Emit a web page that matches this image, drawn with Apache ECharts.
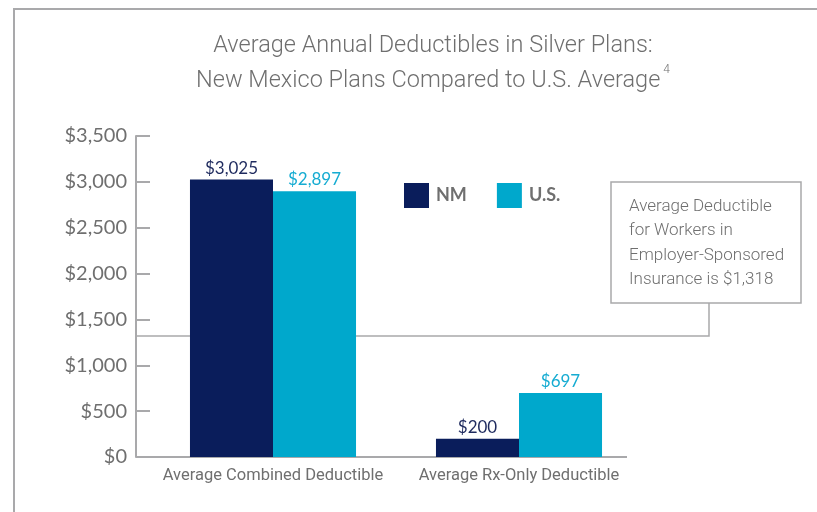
<!DOCTYPE html>
<html><head><meta charset="utf-8">
<script src="https://cdn.jsdelivr.net/npm/echarts@6/dist/echarts.min.js"></script>
<style>html,body{margin:0;padding:0;background:#fff}#c{width:817px;height:512px}</style>
</head><body><div id="c"></div>
<script>
const categories = ['Average Combined Deductible', 'Average Rx-Only Deductible'];
const nmValues = [3025, 200];
const usValues = [2897, 697];
const seriesNames = ['NM', 'U.S.'];
const employerValue = 1318;
const yTicks = [0, 500, 1000, 1500, 2000, 2500, 3000, 3500];

const NAVY = '#0a1d5b', CYAN = '#00a8cc', GREY = '#6f6f6f', LINE = '#a9a9ab';
const NARROW = 'Roboto';
const chart = echarts.init(document.getElementById('c'));
const fmt = v => '$' + v.toLocaleString('en-US');

chart.setOption({
  animation: false,
  title: {
    text: 'Average Annual Deductibles in Silver Plans:\nNew Mexico Plans Compared to U.S. Average{s|4}',
    left: 428, top: 24, textAlign: 'center',
    textStyle: {
      fontFamily: NARROW, fontSize: 23.5, fontWeight: 300, color: GREY, lineHeight: 35,
      rich: { s: { fontSize: 12, verticalAlign: 'top', color: GREY, padding: [0,0,14,3], fontFamily: NARROW } }
    }
  },
  legend: {
    left: 399, top: 178, itemWidth: 25, itemHeight: 25, itemGap: 30, icon: 'rect',
    textStyle: { fontFamily: 'Lato', fontWeight: 'bold', fontSize: 18, color: GREY, padding: [0,0,0,2] },
    data: seriesNames
  },
  grid: { left: 150, top: 136, width: 492, height: 321 },
  xAxis: {
    type: 'category', data: categories,
    axisLine: { show: false }, axisTick: { show: false },
    axisLabel: { interval: 0, fontFamily: NARROW, fontSize: 16.5, color: GREY, margin: 10 }
  },
  yAxis: {
    type: 'value', min: 0, max: 3500, interval: 500, offset: 14,
    axisLine: { show: true, lineStyle: { color: LINE, width: 2 } },
    axisTick: { show: true, inside: true, length: 14, lineStyle: { color: LINE, width: 2 } },
    splitLine: { show: false },
    axisLabel: { fontFamily: 'Lato', fontSize: 20, color: GREY, margin: 9, formatter: v => yTicks.includes(v) ? fmt(v) : '' }
  },
  series: [
    { name: seriesNames[0], type: 'bar', data: nmValues, barGap: '0%', barCategoryGap: '32.5%',
      itemStyle: { color: NAVY },
      label: { show: true, position: 'top', distance: 3, formatter: p => fmt(p.value), fontFamily: 'Lato', fontSize: 17, color: '#1e2a5e' } },
    { name: seriesNames[1], type: 'bar', data: usValues,
      itemStyle: { color: CYAN },
      label: { show: true, position: 'top', distance: 3, formatter: p => fmt(p.value), fontFamily: 'Lato', fontSize: 17, color: '#16acd2' } }
  ]
});

const y0 = chart.convertToPixel({ yAxisIndex: 0 }, 0);
const yE = chart.convertToPixel({ yAxisIndex: 0 }, employerValue);
chart.setOption({
  graphic: [
    { type: 'polyline', shape: { points: [[14, 512], [14, 9], [817, 9]] }, style: { stroke: LINE, lineWidth: 2, fill: null } },
    { type: 'line', shape: { x1: 136, y1: y0, x2: 627, y2: y0 }, style: { stroke: LINE, lineWidth: 2 } },
    { type: 'polyline', shape: { points: [[137, yE], [709, yE], [709, 303]] }, style: { stroke: LINE, lineWidth: 1.5, fill: null } },
    { type: 'rect', shape: { x: 611, y: 182, width: 190, height: 121 }, style: { stroke: LINE, lineWidth: 1.5, fill: '#fff' } },
    { type: 'text', x: 629, y: 194, style: {
        text: 'Average Deductible\nfor Workers in\nEmployer-Sponsored\nInsurance is ' + fmt(employerValue),
        fontFamily: NARROW, fontSize: 17, fontWeight: 300, lineHeight: 24.5, fill: GREY } }
  ]
});
</script></body></html>
